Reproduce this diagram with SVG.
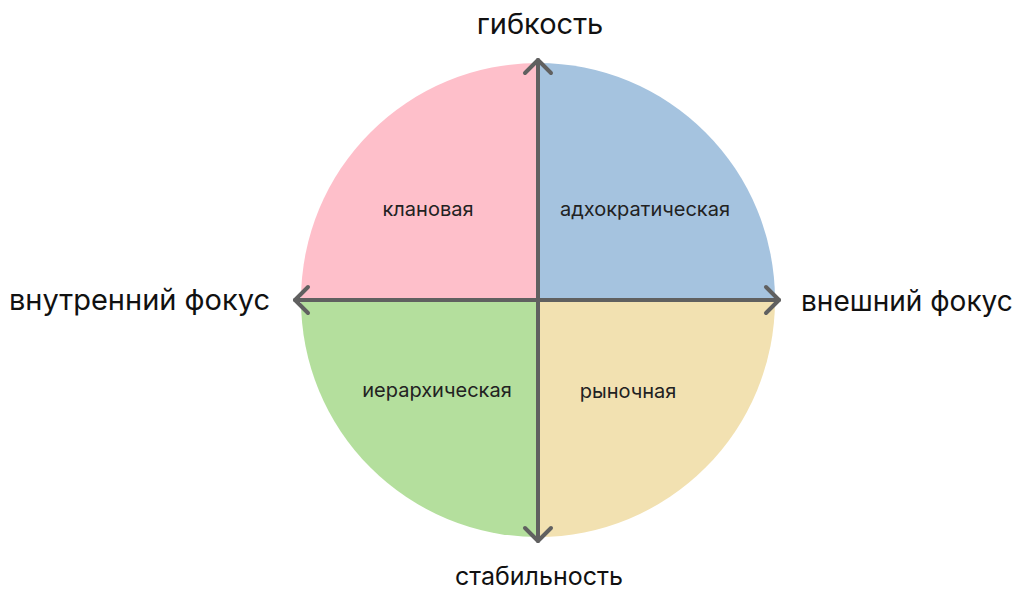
<svg xmlns="http://www.w3.org/2000/svg" width="1021" height="591" viewBox="0 0 1021 591">
<style>
.axis{fill:none;stroke:#606060;stroke-width:4;stroke-linecap:round;stroke-linejoin:round}
.big{font-family:Inter,"Liberation Sans",sans-serif;font-size:29px;fill:#111}
.small{font-family:Inter,"Liberation Sans",sans-serif;font-size:20px;fill:#222;text-anchor:middle}
</style>
<rect width="1021" height="591" fill="#fff"/>
<g id="clan"><path d="M538,300 L301,300 A237,237 0 0 1 538,63 Z" fill="#FEBFCA"/><text class="small" x="428" y="216">клановая</text></g>
<g id="adhocracy"><path d="M538,300 L538,63 A237,237 0 0 1 775,300 Z" fill="#A5C3DF"/><text class="small" x="645" y="216">адхократическая</text></g>
<g id="hierarchy"><path d="M538,300 L538,537 A237,237 0 0 1 301,300 Z" fill="#B4DF9D"/><text class="small" x="437" y="397">иерархическая</text></g>
<g id="market"><path d="M538,300 L775,300 A237,237 0 0 1 538,537 Z" fill="#F2E1B1"/><text class="small" x="628" y="398">рыночная</text></g>
<g id="connectors">
<path class="axis" d="M538,60 L538,541"/>
<path class="axis" d="M525,73 L538,60 L551,73"/>
<path class="axis" d="M525,528 L538,541 L551,528"/>
<path class="axis" d="M295,300 L779,300"/>
<path class="axis" d="M308,287 L295,300 L308,313"/>
<path class="axis" d="M766,287 L779,300 L766,313"/>
</g>
<g id="labels">
<text class="big" x="540" y="34" text-anchor="middle">гибкость</text>
<text class="big" x="539" y="585" text-anchor="middle" style="font-size:25px">стабильность</text>
<text class="big" x="270" y="310" text-anchor="end">внутренний фокус</text>
<text class="big" x="801" y="311" style="font-size:28px">внешний фокус</text>
</g>
</svg>
